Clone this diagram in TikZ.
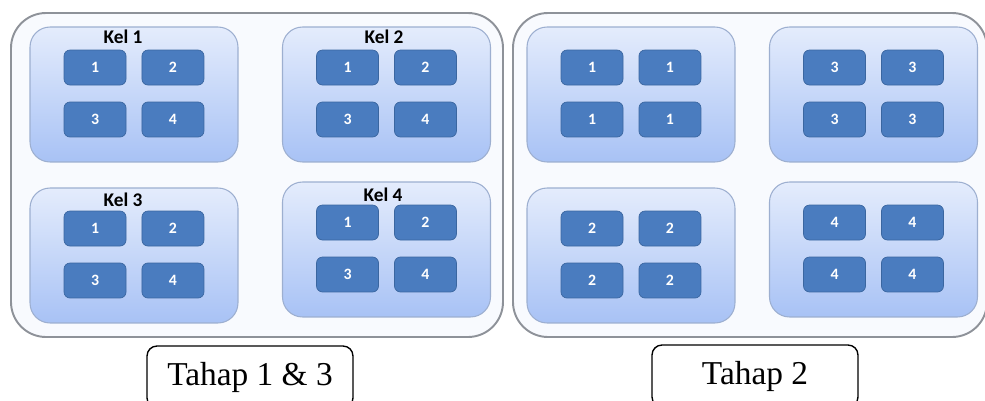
\documentclass[tikz,border=0pt]{standalone}
\usepackage{fontspec}
\setmainfont{Liberation Serif}
\newfontfamily\calibri{Carlito}
\usepackage{tikz}
\usetikzlibrary{positioning,calc}

\definecolor{panelfill}{HTML}{F8FAFE}
\definecolor{panelline}{HTML}{8E9299}
\definecolor{grptop}{HTML}{E4ECFC}
\definecolor{grpbot}{HTML}{A8C2F5}
\definecolor{grpline}{HTML}{9DAFD0}
\definecolor{seatfill}{HTML}{4A7CBF}
\definecolor{seatline}{HTML}{3A66A0}

\tikzset{
  panel/.style={draw=panelline,line width=1.1pt,fill=panelfill,rounded corners=0.7cm},
  grp/.style={draw=grpline,line width=0.6pt,top color=grptop,bottom color=grpbot,
    rounded corners=0.4cm,minimum width=4.16cm,minimum height=2.7cm},
  seat/.style={draw=seatline,fill=seatfill,rounded corners=0.12cm,minimum width=1.24cm,
    minimum height=0.7cm,text=white,font=\calibri\bfseries\fontsize{9}{10}\selectfont},
  kel/.style={font=\calibri\bfseries\fontsize{11}{12}\selectfont},
  tahap/.style={draw=black,line width=0.8pt,rounded corners=0.2cm,minimum width=4.12cm,
    minimum height=1.24cm,font=\fontsize{19}{22}\selectfont}
}

\begin{document}
\begin{tikzpicture}[x=0.02cm,y=-0.02cm]
\useasboundingbox (0,0) rectangle (985,400);

% Outer panels
\draw[panel] (11,13) rectangle (503,337);
\draw[panel] (513,13) rectangle (987,337);

% Groups with their seats
\foreach \g/\cx/\cy/\a/\b/\c/\d in {
    k1/134/94.5/1/2/3/4, k2/386.5/94.5/1/2/3/4,
    k3/134/255.5/1/2/3/4, k4/386.5/249.5/1/2/3/4,
    t1/631/94.5/1/1/1/1, t3/873.5/94.5/3/3/3/3,
    t2/631/255.5/2/2/2/2, t4/873.5/249.5/4/4/4/4}{
  \node[grp] (\g) at (\cx,\cy) {};
  \node[seat] (\g-a) at ([xshift=-0.78cm,yshift=0.54cm]\g.center) {\a};
  \node[seat] (\g-b) at ([xshift=0.78cm,yshift=0.54cm]\g.center) {\b};
  \node[seat] (\g-c) at ([xshift=-0.78cm,yshift=-0.5cm]\g.center) {\c};
  \node[seat] (\g-d) at ([xshift=0.78cm,yshift=-0.5cm]\g.center) {\d};
}

% Group titles
\node[kel] (kel1) at ([xshift=-0.22cm,yshift=-0.2cm]k1.north) {Kel 1};
\node[kel] (kel2) at ([xshift=-0.05cm,yshift=-0.2cm]k2.north) {Kel 2};
\node[kel] (kel3) at ([xshift=-0.22cm,yshift=-0.24cm]k3.north) {Kel 3};
\node[kel] (kel4) at ([xshift=-0.07cm,yshift=-0.26cm]k4.north) {Kel 4};

% Stage captions
\node[tahap] (tahapA) at (250,377) {Tahap 1 \& 3};
\node[tahap] (tahapB) at (755,376) {Tahap 2};
\end{tikzpicture}
\end{document}
